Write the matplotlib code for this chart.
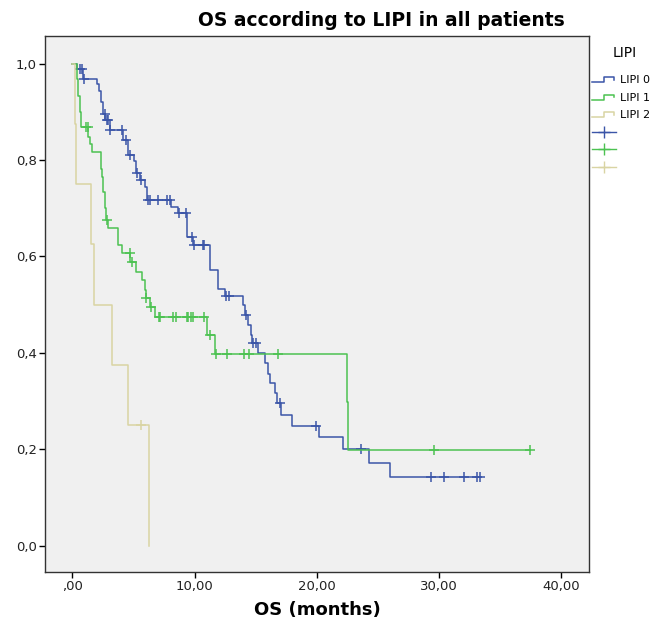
import numpy as np
import matplotlib
matplotlib.use("Agg")
import matplotlib.pyplot as plt
from matplotlib.lines import Line2D
from matplotlib.legend_handler import HandlerBase

# Kaplan-Meier step curves: event times (months) and survival after each event
lipi0_times = [0.0, 0.35, 0.9, 2.0, 2.2, 2.37, 2.53, 2.7, 3.08, 4.17, 4.58, 5.05, 5.2,
               5.5, 5.94, 6.08, 8.04, 8.67, 9.4, 9.85, 11.26, 11.9, 12.5, 14.0, 14.15,
               14.4, 14.58, 14.7, 15.2, 15.76, 16.0, 16.2, 16.57, 16.7, 17.1, 18.0,
               20.17, 22.16, 24.3, 26.0]
lipi0_surv = [1.0, 0.989, 0.967, 0.958, 0.943, 0.92, 0.896, 0.882, 0.862, 0.841, 0.81,
              0.798, 0.772, 0.758, 0.744, 0.717, 0.703, 0.689, 0.641, 0.623, 0.571,
              0.533, 0.518, 0.499, 0.478, 0.457, 0.437, 0.42, 0.399, 0.378, 0.357,
              0.337, 0.316, 0.295, 0.271, 0.249, 0.225, 0.2, 0.171, 0.143]
lipi0_censored = [0.6, 0.8, 0.95, 2.67, 2.8, 2.94, 3.1, 4.04, 4.4, 4.75, 5.3, 5.59, 6.2,
                  6.35, 7.03, 7.72, 7.95, 8.75, 9.3, 9.76, 9.95, 10.66, 10.77, 12.57,
                  12.85, 14.2, 14.8, 15.02, 16.98, 19.9, 23.6, 29.3, 30.4, 32.0, 33.07,
                  33.34]

lipi1_times = [0.0, 0.4, 0.5, 0.6, 0.75, 1.31, 1.45, 1.58, 2.32, 2.45, 2.55, 2.65,
               2.75, 2.95, 3.76, 4.1, 4.75, 5.2, 5.67, 5.94, 6.0, 6.35, 6.76, 11.0,
               11.67, 22.43, 22.57]
lipi1_surv = [1.0, 0.967, 0.933, 0.9, 0.869, 0.848, 0.833, 0.817, 0.782, 0.765, 0.733,
              0.7, 0.675, 0.659, 0.623, 0.606, 0.589, 0.568, 0.551, 0.53, 0.513, 0.495,
              0.475, 0.437, 0.397, 0.298, 0.199]
lipi1_censored = [1.12, 1.25, 2.85, 4.72, 4.85, 6.05, 6.4, 7.1, 7.2, 8.2, 8.48, 9.35,
                  9.49, 9.68, 9.9, 10.77, 11.3, 11.75, 12.67, 14.04, 14.44, 16.85,
                  29.57, 37.4]

lipi2_times = [0.0, 0.22, 0.3, 1.5, 1.8, 3.27, 4.58, 6.3]
lipi2_surv = [1.0, 0.875, 0.75, 0.625, 0.5, 0.375, 0.25, 0.0]
lipi2_censored = [5.59]

groups = ["LIPI 0", "LIPI 1", "LIPI 2"]
colors = ["#3b55a8", "#4cc251", "#d9d4a3"]

x_ticks = [0, 10, 20, 30, 40]
x_ticklabels = [",00", "10,00", "20,00", "30,00", "40,00"]
y_ticks = [0.0, 0.2, 0.4, 0.6, 0.8, 1.0]
y_ticklabels = ["0,0", "0,2", "0,4", "0,6", "0,8", "1,0"]


class StepIcon(HandlerBase):
    # little step-shaped legend key, like a survival curve
    def create_artists(self, legend, orig_handle, xdescent, ydescent,
                       width, height, fontsize, trans):
        xs = np.array([0.0, 0.5, 0.5, 0.9, 0.9]) * width - xdescent
        ys = np.array([0.1, 0.1, 0.75, 0.75, 0.4]) * height - ydescent
        ln = Line2D(xs, ys, color=orig_handle.get_color(),
                    lw=orig_handle.get_linewidth(), transform=trans)
        return [ln]


W, H = 657, 632
fig = plt.figure(figsize=(W / 100, H / 100), dpi=100)
ax = fig.add_axes([0.0685, 0.0954, 0.828, 0.8476])
ax.set_facecolor("#f0f0f0")

data = [(lipi0_times, lipi0_surv, lipi0_censored),
        (lipi1_times, lipi1_surv, lipi1_censored),
        (lipi2_times, lipi2_surv, lipi2_censored)]

step_handles = []
cens_handles = []
for (t, s, c), col in zip(data, colors):
    t = np.array(t)
    s = np.array(s)
    c = np.array(c)
    end = max(t[-1], c.max()) if len(c) else t[-1]
    tt = np.append(t, end)
    ss = np.append(s, s[-1])
    ln, = ax.step(tt, ss, where="post", color=col, lw=1.1)
    step_handles.append(ln)
    # survival level at each censoring time
    cs = s[np.searchsorted(t, c, side="right") - 1]
    ax.plot(c, cs, ls="none", marker="+", ms=7, mew=1.1, color=col)
    cens_handles.append(Line2D([], [], color=col, lw=1.0, marker="+",
                               ms=9, mew=1.0))

ax.set_xlim(-2.23, 42.25)
ax.set_ylim(-0.054, 1.057)
ax.set_xticks(x_ticks)
ax.set_xticklabels(x_ticklabels)
ax.set_yticks(y_ticks)
ax.set_yticklabels(y_ticklabels)
ax.tick_params(direction="out", length=4, width=1, labelsize=9.5,
               labelcolor="#222222", pad=2)
for sp in ax.spines.values():
    sp.set_linewidth(1.0)
    sp.set_color("#333333")

ax.set_xlabel("OS (months)", fontsize=13, fontweight="bold", labelpad=6)
fig.text(381 / W, 1 - 20 / H, "OS according to LIPI in all patients",
         ha="center", va="center", fontsize=13.5, fontweight="bold")

# legend to the right of the plot frame
fig.text(625 / W, 1 - 53 / H, "LIPI", ha="center", va="center", fontsize=10)
handler_map = {h: StepIcon() for h in step_handles}
fig.legend(step_handles + cens_handles, groups + ["", "", ""],
           handler_map=handler_map, fontsize=8, loc="upper left",
           bbox_to_anchor=(592 / W, 1 - 75 / H), frameon=False,
           borderaxespad=0, borderpad=0, handlelength=2.2,
           handletextpad=0.3, labelspacing=0.68)

fig.savefig("out.png", dpi=100)
